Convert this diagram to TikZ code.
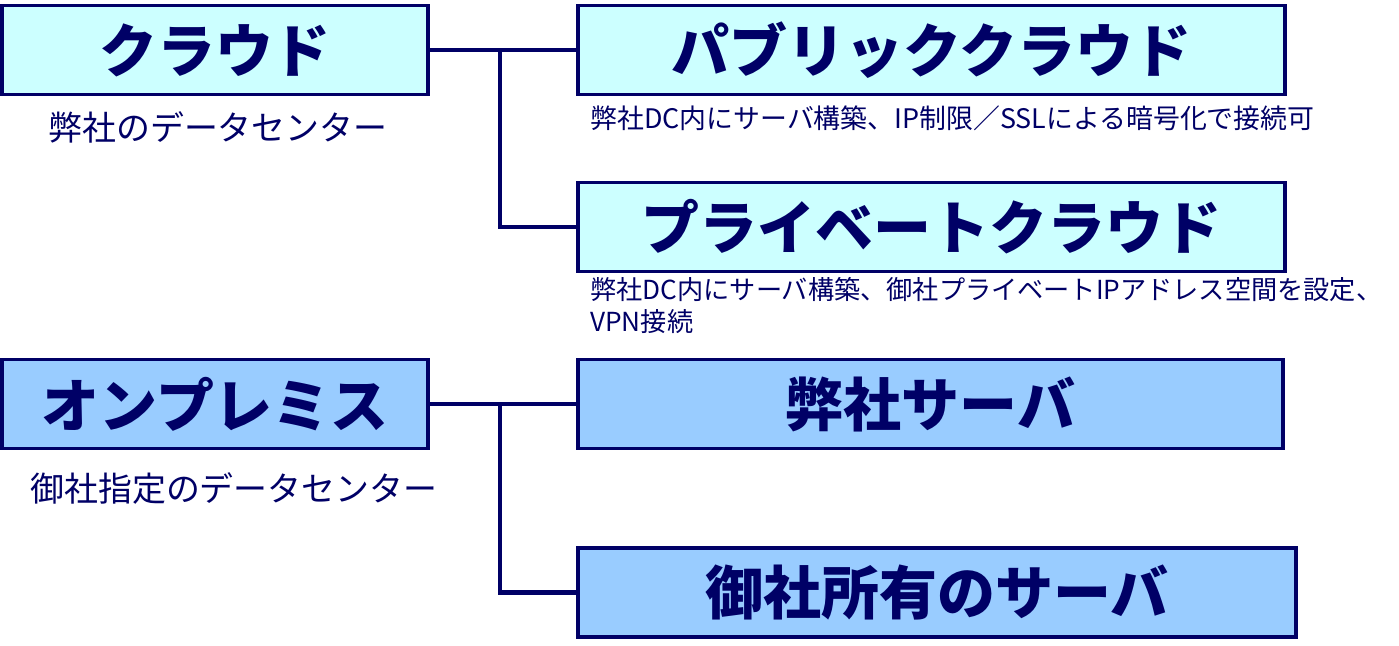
\documentclass[tikz,border=0pt]{standalone}
\usepackage{fontspec}
\setmainfont{Noto Sans CJK JP}
\usetikzlibrary{positioning}

\definecolor{navy}{RGB}{0,0,102}
\definecolor{cloudfill}{RGB}{204,255,255}
\definecolor{premfill}{RGB}{153,204,255}

\tikzset{
  bigbox/.style={draw=navy, line width=1.8pt, text=navy, minimum height=1.78cm,
    font=\fontsize{33}{36}\selectfont\bfseries, inner sep=0pt},
  note/.style={text=navy, inner sep=0pt, anchor=west},
  link/.style={draw=navy, line width=2.4pt}
}

\begin{document}
\begin{tikzpicture}
    \useasboundingbox (0,0) rectangle (27.98,12.9);

    % Cloud
    \node[bigbox,fill=cloudfill,minimum width=8.52cm] (cloud) at (4.3,11.9) {クラウド};
    \node[note,font=\fontsize{19.3}{22}\selectfont] (cloudnote) at (0.96,10.36) {弊社のデータセンター};
    \node[bigbox,fill=cloudfill,minimum width=14.14cm] (public) at (18.63,11.9) {パブリッククラウド};
    \node[note,font=\fontsize{15.3}{18}\selectfont] (publicnote) at (11.8,10.54) {弊社DC内にサーバ構築、IP制限／SSLによる暗号化で接続可};
    \node[bigbox,fill=cloudfill,minimum width=14.14cm] (private) at (18.63,8.36) {プライベートクラウド};
    \node[note,anchor=north west,align=left,font=\fontsize{14.9}{18.2}\selectfont] (privatenote) at (11.8,7.35) {弊社DC内にサーバ構築、御社プライベートIPアドレス空間を設定、\\VPN接続};

    % On-premises
    \node[bigbox,fill=premfill,minimum width=8.52cm] (onprem) at (4.3,4.82) {オンプレミス};
    \node[note,font=\fontsize{19.3}{22}\selectfont] (onpremnote) at (0.6,3.14) {御社指定のデータセンター};
    \node[bigbox,fill=premfill,minimum width=14.1cm] (ourserver) at (18.61,4.82) {弊社サーバ};
    \node[bigbox,fill=premfill,minimum width=14.36cm] (yourserver) at (18.74,1.05) {御社所有のサーバ};

    % Links
    \coordinate (branch) at (10,0);
    \draw[link] (cloud.east) -- (public.west);
    \draw[link] (branch |- cloud.east) |- (private.west);
    \draw[link] (onprem.east) -- (ourserver.west);
    \draw[link] (branch |- onprem.east) |- (yourserver.west);
  \end{tikzpicture}
\end{document}
